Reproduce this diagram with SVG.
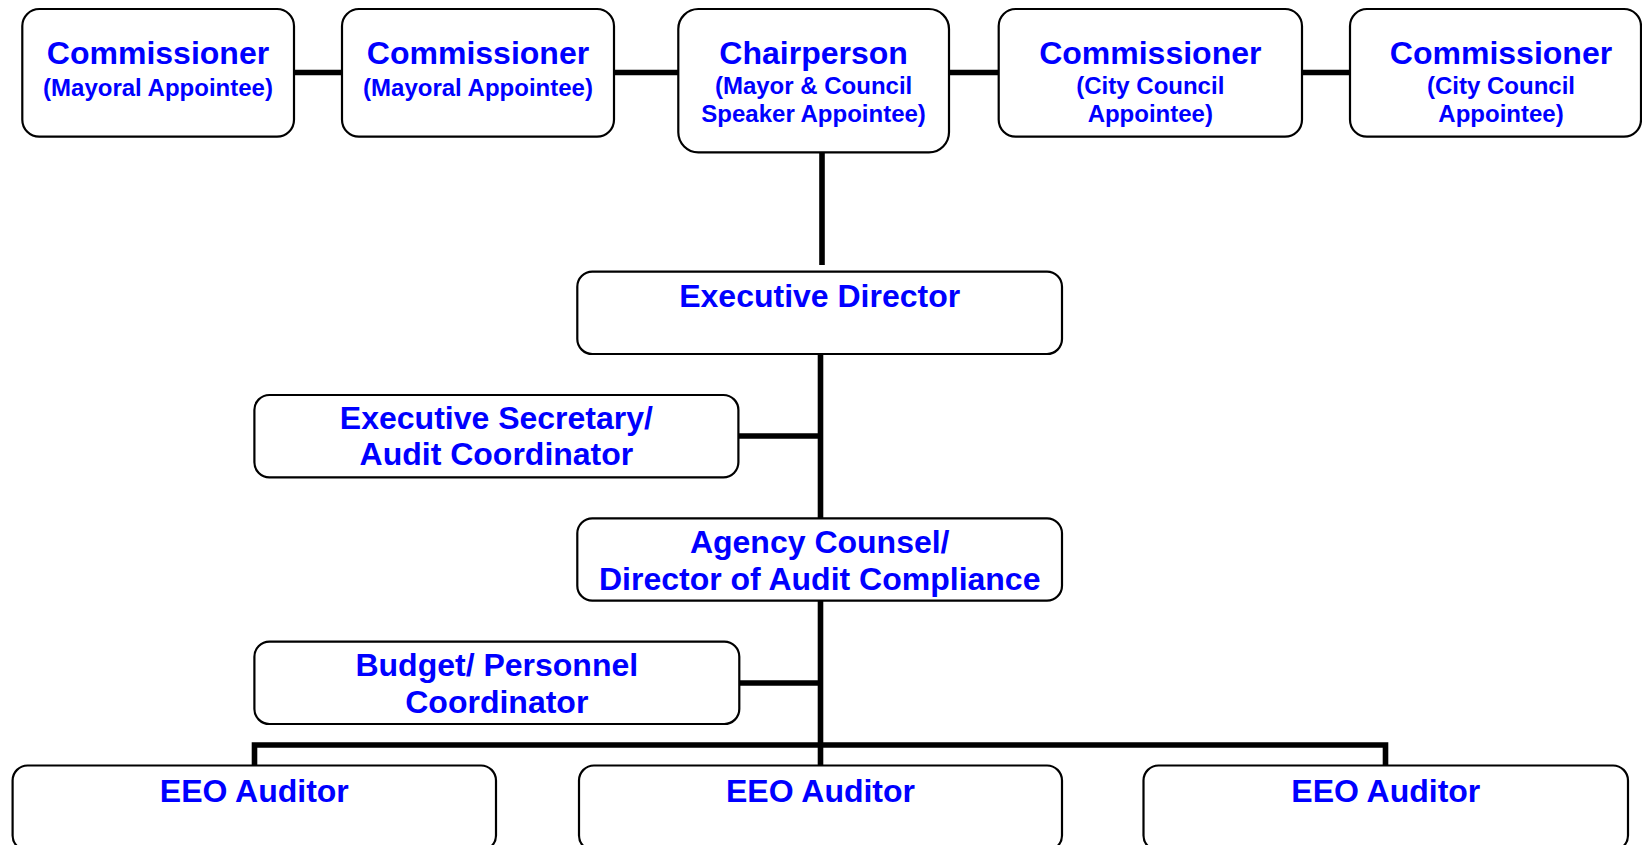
<svg xmlns="http://www.w3.org/2000/svg" width="1642" height="845" viewBox="0 0 1642 845">
  <style>
    .box { fill: #ffffff; stroke: #000000; stroke-width: 2.2; }
    .link { stroke: #000000; stroke-width: 5.6; fill: none; stroke-linecap: butt; }
    .t { font-family: "Liberation Sans", Arial, sans-serif; font-weight: bold; fill: #0000ff; text-anchor: middle; }
    .h { font-size: 32px; }
    .s { font-size: 24px; }
  </style>
  <rect width="1642" height="845" fill="#ffffff"/>

  <!-- connectors -->
  <g id="connectors">
    <!-- commission row -->
    <line class="link" x1="294" y1="72.5" x2="342" y2="72.5"/>
    <line class="link" x1="614" y1="72.5" x2="678" y2="72.5"/>
    <line class="link" x1="949" y1="72.5" x2="999" y2="72.5"/>
    <line class="link" x1="1302" y1="72.5" x2="1350" y2="72.5"/>
    <!-- chairperson to executive director -->
    <line class="link" x1="822" y1="152.5" x2="822" y2="265"/>
    <!-- executive director spine -->
    <line class="link" x1="820.5" y1="354" x2="820.5" y2="518.5"/>
    <line class="link" x1="738.5" y1="436" x2="823" y2="436"/>
    <line class="link" x1="820.5" y1="600.5" x2="820.5" y2="765.5"/>
    <line class="link" x1="739.3" y1="683" x2="823" y2="683"/>
    <!-- auditor bus -->
    <polyline class="link" points="254.5,765.5 254.5,745 1385.5,745 1385.5,765.5"/>
  </g>

  <!-- commission -->
  <g id="commissioner-mayoral-1">
    <rect class="box" x="22.3" y="9" width="271.7" height="127.7" rx="17"/>
    <text class="t h" x="158" y="64">Commissioner</text>
    <text class="t s" x="158" y="95.5">(Mayoral Appointee)</text>
  </g>
  <g id="commissioner-mayoral-2">
    <rect class="box" x="342" y="9" width="272" height="127.7" rx="17"/>
    <text class="t h" x="478" y="64">Commissioner</text>
    <text class="t s" x="478" y="95.5">(Mayoral Appointee)</text>
  </g>
  <g id="chairperson">
    <rect class="box" x="678.3" y="9" width="270.7" height="143.3" rx="20"/>
    <text class="t h" x="813.6" y="64">Chairperson</text>
    <text class="t s" x="813.6" y="93.5">(Mayor &amp; Council</text>
    <text class="t s" x="813.6" y="122">Speaker Appointee)</text>
  </g>
  <g id="commissioner-council-1">
    <rect class="box" x="998.7" y="9" width="303.3" height="127.7" rx="17"/>
    <text class="t h" x="1150.3" y="64">Commissioner</text>
    <text class="t s" x="1150.3" y="93.5">(City Council</text>
    <text class="t s" x="1150.3" y="122">Appointee)</text>
  </g>
  <g id="commissioner-council-2">
    <rect class="box" x="1350" y="9" width="291" height="127.7" rx="17"/>
    <text class="t h" x="1501" y="64">Commissioner</text>
    <text class="t s" x="1501" y="93.5">(City Council</text>
    <text class="t s" x="1501" y="122">Appointee)</text>
  </g>

  <!-- staff -->
  <g id="executive-director">
    <rect class="box" x="577.3" y="271.7" width="484.7" height="82.3" rx="15"/>
    <text class="t h" x="819.7" y="307">Executive Director</text>
  </g>
  <g id="executive-secretary">
    <rect class="box" x="254.4" y="395" width="484" height="82.3" rx="15"/>
    <text class="t h" x="496.4" y="429">Executive Secretary/</text>
    <text class="t h" x="496.4" y="465">Audit Coordinator</text>
  </g>
  <g id="agency-counsel">
    <rect class="box" x="577.3" y="518.3" width="484.7" height="82.4" rx="15"/>
    <text class="t h" x="819.7" y="553">Agency Counsel/</text>
    <text class="t h" x="819.7" y="589.5">Director of Audit Compliance</text>
  </g>
  <g id="budget-personnel">
    <rect class="box" x="254.4" y="641.7" width="484.9" height="82.3" rx="15"/>
    <text class="t h" x="496.8" y="675.5">Budget/ Personnel</text>
    <text class="t h" x="496.8" y="712.5">Coordinator</text>
  </g>

  <!-- auditors -->
  <g id="eeo-auditor-1">
    <rect class="box" x="12.6" y="765.5" width="483.4" height="85" rx="15"/>
    <text class="t h" x="254.3" y="801.5">EEO Auditor</text>
  </g>
  <g id="eeo-auditor-2">
    <rect class="box" x="579" y="765.5" width="483" height="85" rx="15"/>
    <text class="t h" x="820.5" y="801.5">EEO Auditor</text>
  </g>
  <g id="eeo-auditor-3">
    <rect class="box" x="1143.5" y="765.5" width="484.5" height="85" rx="15"/>
    <text class="t h" x="1385.8" y="801.5">EEO Auditor</text>
  </g>
</svg>
